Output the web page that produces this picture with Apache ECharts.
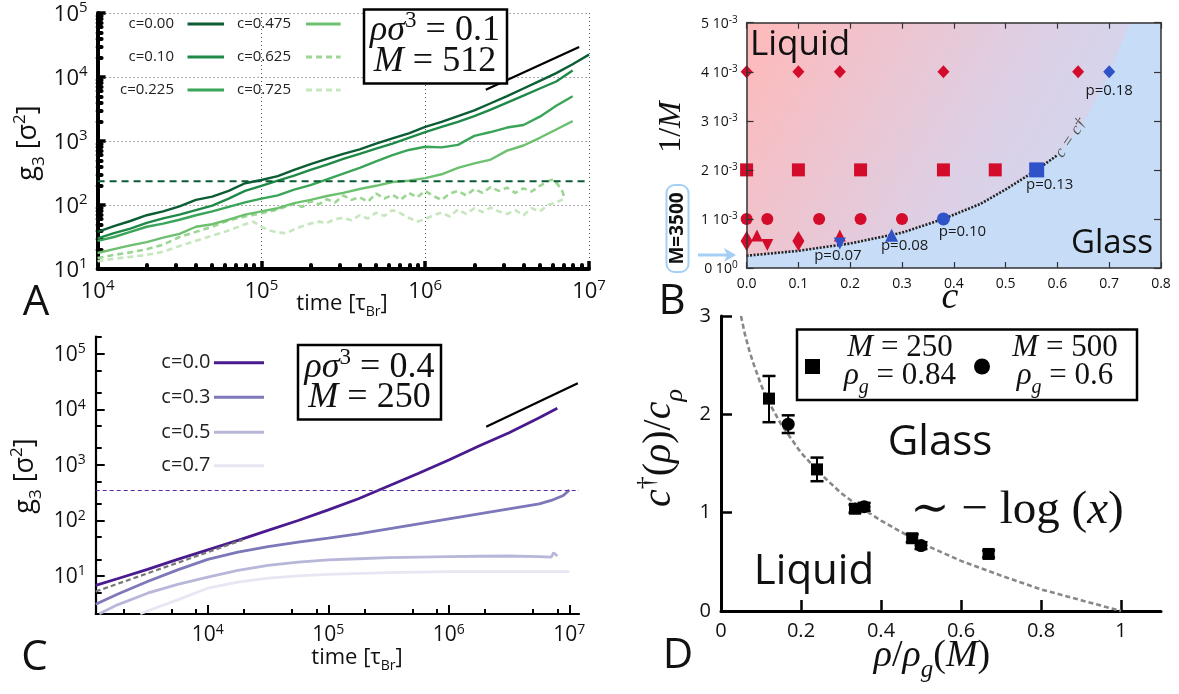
<!DOCTYPE html>
<html><head><meta charset="utf-8">
<script src="https://cdn.jsdelivr.net/npm/echarts@6/dist/echarts.min.js"></script>
<style>html,body{margin:0;padding:0;background:#fff}#c{width:1179px;height:694px}</style>
</head><body><div id="c"></div>
<script>
// ================= DATA =================
// Panel A (log10 of time and log10 of g3)
const A_logT = [4.0,4.1,4.2,4.3,4.4,4.5,4.6,4.7,4.8,4.9,5.0,5.1,5.2,5.3,5.4,5.5,5.6,5.7,5.8,5.9,6.0,6.1,6.2,6.3,6.4,6.5,6.6,6.7,6.8,6.9,7.0];
const A_logG_c000 = [1.58,1.67,1.75,1.84,1.90,1.98,2.08,2.13,2.22,2.34,2.39,2.45,2.55,2.64,2.72,2.80,2.87,2.96,3.04,3.12,3.22,3.30,3.39,3.48,3.59,3.70,3.82,3.94,4.06,4.20,4.35];
const A_logG_c010 = [1.48,1.56,1.63,1.72,1.79,1.85,1.92,1.99,2.10,2.22,2.30,2.38,2.46,2.55,2.63,2.72,2.80,2.88,2.96,3.05,3.14,3.22,3.30,3.39,3.49,3.60,3.71,3.82,3.93,4.10];
const A_logG_c0225 = [1.44,1.50,1.58,1.66,1.71,1.77,1.84,1.90,1.97,2.04,2.10,2.15,2.24,2.31,2.40,2.49,2.58,2.68,2.78,2.86,2.91,2.90,2.94,3.08,3.14,3.21,3.25,3.38,3.55,3.70];
const A_logG_c0475 = [1.25,1.31,1.37,1.42,1.49,1.55,1.66,1.70,1.77,1.85,1.90,1.95,2.03,2.08,2.14,2.19,2.25,2.30,2.36,2.38,2.42,2.48,2.58,2.65,2.71,2.85,2.93,3.05,3.18,3.31];
const A_logT_c0625 = [4.0,4.1,4.2,4.3,4.4,4.5,4.6,4.7,4.8,4.9,5.0,5.1,5.2,5.25,5.3,5.35,5.4,5.45,5.5,5.55,5.6,5.65,5.7,5.75,5.8,5.85,5.9,5.95,6.0,6.05,6.1,6.15,6.2,6.25,6.3,6.35,6.4,6.45,6.5,6.55,6.6,6.65,6.7,6.75,6.78,6.81,6.84,6.85];
const A_logG_c0625 = [1.17,1.22,1.26,1.31,1.38,1.50,1.58,1.66,1.76,1.82,1.87,1.93,2.02,1.97,2.06,2.01,2.09,2.04,2.15,2.08,2.12,2.05,2.18,2.10,2.16,2.08,2.19,2.12,2.22,2.14,2.08,2.18,2.22,2.15,2.25,2.19,2.28,2.22,2.27,2.19,2.26,2.21,2.30,2.37,2.40,2.32,2.20,2.10];
const A_logT_c0725 = [4.0,4.1,4.2,4.3,4.4,4.5,4.6,4.7,4.8,4.9,4.95,5.0,5.05,5.1,5.15,5.2,5.25,5.3,5.35,5.4,5.45,5.5,5.55,5.6,5.65,5.7,5.75,5.8,5.85,5.9,5.95,6.0,6.05,6.1,6.15,6.2,6.25,6.3,6.35,6.4,6.45,6.5,6.55,6.6,6.65,6.7,6.75,6.8,6.85];
const A_logG_c0725 = [1.12,1.16,1.19,1.22,1.27,1.36,1.44,1.52,1.60,1.70,1.74,1.66,1.60,1.57,1.56,1.62,1.67,1.71,1.74,1.72,1.78,1.80,1.76,1.84,1.79,1.88,1.83,1.92,1.87,1.80,1.74,1.78,1.84,1.88,1.82,1.93,1.86,1.95,1.89,1.96,1.90,1.86,1.92,1.84,1.95,1.90,2.00,2.04,2.10];
const A_labels = ['c=0.00','c=0.10','c=0.225','c=0.475','c=0.625','c=0.725'];
const A_threshold_logG = 2.37;
const A_slope_logT = [6.37, 6.94];
const A_slope_logG = [3.80, 4.47];
const A_tickExp_T = [4,5,6,7];
const A_tickExp_G = [1,2,3,4,5];

// Panel B (c, 1/M in units of 1e-3)
const B_cTicks = [0,0.1,0.2,0.3,0.4,0.5,0.6,0.7,0.8];
const B_invMTicks = [0,1,2,3,4,5];
const B_boundary_c    = [0,0.1,0.2,0.3,0.38,0.45,0.5,0.56,0.6,0.65,0.7,0.74];
const B_boundary_invM = [0.25,0.35,0.5,0.72,1.0,1.3,1.6,2.0,2.3,2.95,3.95,5.0];
const B_liq_diamond = [[0,4],[0.1,4],[0.18,4],[0.38,4],[0.64,4]];
const B_liq_square  = [[0,2],[0.1,2],[0.22,2],[0.38,2],[0.48,2]];
const B_liq_circle  = [[0,1],[0.04,1],[0.14,1],[0.22,1],[0.30,1]];
const B_liq_tallDiamond = [[0,0.55],[0.1,0.55]];
const B_liq_triUp   = [[0.02,0.66],[0.18,0.66]];
const B_liq_triDown = [[0.04,0.47]];
const B_gl_diamond = [[0.70,4]];
const B_gl_square  = [[0.56,2]];
const B_gl_circle  = [[0.38,1]];
const B_gl_triUp   = [[0.28,0.67]];
const B_gl_triDown = [[0.18,0.5]];
const B_pLabels = {diamond:'p=0.18', square:'p=0.13', circle:'p=0.10', triUp:'p=0.08', triDown:'p=0.07'};

// Panel C (log10 time, log10 g3)
const C_logT_c00 = [3.07,3.25,3.5,3.75,4.0,4.25,4.5,4.75,5.0,5.25,5.5,5.75,6.0,6.25,6.5,6.75,6.9];
const C_logG_c00 = [0.83,0.95,1.12,1.30,1.47,1.64,1.82,2.00,2.19,2.39,2.62,2.85,3.09,3.34,3.58,3.85,4.02];
const C_logT_c03 = [3.07,3.25,3.5,3.75,4.0,4.25,4.5,4.75,5.0,5.25,5.5,5.75,6.0,6.25,6.5,6.75,6.85,6.95,7.0];
const C_logG_c03 = [0.49,0.67,0.90,1.11,1.30,1.43,1.53,1.61,1.68,1.76,1.85,1.94,2.03,2.12,2.21,2.30,2.36,2.45,2.55];
const C_logT_c05 = [3.1,3.25,3.5,3.75,4.0,4.25,4.5,4.75,5.0,5.25,5.5,5.75,6.0,6.25,6.5,6.75,6.85,6.87,6.9];
const C_logG_c05 = [0.32,0.48,0.69,0.85,0.98,1.10,1.19,1.25,1.29,1.31,1.33,1.34,1.35,1.355,1.36,1.35,1.34,1.42,1.36];
const C_logT_c07 = [3.44,3.6,3.75,4.0,4.25,4.5,4.75,5.0,5.5,6.0,6.5,7.0];
const C_logG_c07 = [0.32,0.45,0.57,0.78,0.89,0.96,1.00,1.03,1.06,1.08,1.08,1.08];
const C_labels = ['c=0.0','c=0.3','c=0.5','c=0.7'];
const C_threshold_logG = 2.54;
const C_fit_logT = [3.07, 4.29];
const C_fit_logG = [0.72, 1.65];
const C_slope_logT = [6.31, 7.07];
const C_slope_logG = [3.69, 4.47];
const C_tickExp_T = [4,5,6,7];
const C_tickExp_G = [1,2,3,4,5];

// Panel D
const D_sq_x  = [0.12,0.24,0.335,0.478,0.669];
const D_sq_y  = [2.16,1.44,1.04,0.74,0.58];
const D_sq_lo = [1.92,1.32,1.00,0.70,0.545];
const D_sq_hi = [2.39,1.56,1.08,0.78,0.615];
const D_ci_x  = [0.168,0.358,0.50];
const D_ci_y  = [1.90,1.06,0.665];
const D_ci_lo = [1.81,1.02,0.63];
const D_ci_hi = [1.99,1.10,0.70];
const D_fit_x = [0.05,0.06,0.07,0.08,0.1,0.12,0.15,0.2,0.25,0.3,0.35,0.4,0.5,0.6,0.7,0.8,0.9,1.0];
const D_fit_y = [3.0,2.81,2.66,2.53,2.30,2.12,1.90,1.61,1.39,1.20,1.05,0.92,0.69,0.51,0.36,0.22,0.11,0.0];
const D_xTicks = [0,0.2,0.4,0.6,0.8,1];

// ================= BUILD =================
const sans = '"Open Sans","Noto Sans",sans-serif';
const serif = '"Liberation Serif","DejaVu Serif",serif';
const zip = (xs, ys) => ys.map((y, i) => [xs[i], y]);
const minorTicks = (from, to, ks) => { const r = []; for (let n = from; n < to; n++) ks.forEach(k => r.push(n + Math.log10(k))); return r; };

const colA = ['#0b5d33','#1f8a47','#3aa558','#6cc070','#9bd693','#c6e7be'];
const colC = ['#4a1a8f','#7c78b9','#b8b7da','#e8e6f2'];
const red = '#d40c2c', blue = '#2f52c8';

function powRich(size, sup, color) {
  return {
    b: {fontSize: size, fontFamily: sans, color: color || '#111', verticalAlign: 'bottom'},
    s: {fontSize: sup, fontFamily: sans, color: color || '#111', verticalAlign: 'bottom', padding: [0, 0, Math.round(size * 0.45), 0]}
  };
}
const powFmt = v => '{b|10}{s|' + Math.round(v) + '}';

const mathRich = (size) => ({
  i: {fontFamily: serif, fontStyle: 'italic', fontSize: size, verticalAlign: 'bottom', padding: [0, 0, Math.round(size * 0.22), 0]},
  n: {fontFamily: serif, fontSize: size, verticalAlign: 'bottom', padding: [0, 0, Math.round(size * 0.22), 0]},
  a: {fontFamily: sans, fontSize: size, verticalAlign: 'bottom', padding: [0, 0, Math.round(size * 0.22), 0]},
  sup: {fontFamily: serif, fontSize: Math.round(size * 0.65), verticalAlign: 'bottom', padding: [0, 0, Math.round(size * 0.7), 0]},
  ssup: {fontFamily: sans, fontSize: Math.round(size * 0.62), verticalAlign: 'bottom', padding: [0, 0, Math.round(size * 0.7), 0]},
  sub: {fontFamily: serif, fontStyle: 'italic', fontSize: Math.round(size * 0.65), verticalAlign: 'bottom', padding: [0, 0, 0, 0]},
  ssub: {fontFamily: sans, fontSize: Math.round(size * 0.62), verticalAlign: 'bottom', padding: [0, 0, 0, 0]}
});

const G = [];
function T(x, y, text, o) {
  o = o || {};
  G.push({type: 'text', x: x, y: y, rotation: o.rot || 0, z: 100, silent: true,
    style: {text: text, x: 0, y: 0, fill: o.color || '#111', fontSize: o.size || 16, fontFamily: o.family || sans,
      fontStyle: o.style || 'normal', fontWeight: o.weight || 'normal',
      align: o.align || 'center', verticalAlign: o.valign || 'middle',
      textAlign: o.align || 'center', textVerticalAlign: o.valign || 'middle', rich: o.rich}});
}
function Ln(x1, y1, x2, y2, color, w, dash) {
  G.push({type: 'line', z: 100, silent: true, shape: {x1, y1, x2, y2}, style: {stroke: color, lineWidth: w, lineDash: dash || null}});
}
function Rc(x, y, w, h, stroke, lw, r, fill) {
  G.push({type: 'rect', z: 99, silent: true, shape: {x, y, width: w, height: h, r: r || 0}, style: {fill: fill || 'rgba(0,0,0,0)', stroke: stroke, lineWidth: lw}});
}

// ---- Panel A annotations ----
const aRows = [24, 57, 90];
[0,1,2].forEach(i => {
  T(174, aRows[i], A_labels[i], {size: 15, align: 'right', color: '#222'});
  Ln(187.5, aRows[i], 224, aRows[i], colA[i], 3);
  T(291, aRows[i], A_labels[i + 3], {size: 15, align: 'right', color: '#222'});
  Ln(306, aRows[i], 340.6, aRows[i], colA[i + 3], 3, i === 0 ? null : [6, 4]);
});
Rc(364, 9.5, 143, 74, '#000', 2.5, 0, '#fff');
T(435, 33, '{i|ρσ}{sup|3}{n| = 0.1}', {rich: mathRich(36)});
T(435, 66, '{i|M}{n| = 512}', {rich: mathRich(36)});
T(342, 306, '{a|time [τ}{ssub|Br}{a|]}', {rich: mathRich(22)});
T(30, 143, '{a|g}{ssub|3}{a| [σ}{ssup|2}{a|]}', {rich: mathRich(27), rot: Math.PI / 2});
T(36, 303, 'A', {size: 42});

// ---- Panel B annotations ----
T(750, 45, 'Liquid', {size: 35, align: 'left'});
T(1153, 244, 'Glass', {size: 33, align: 'right'});
T(1071, 138, 'c = c†', {size: 17, family: serif, style: 'italic', color: '#555', rot: 0.98});
T(675, 127, '{n|1/}{i|M}', {rich: mathRich(32), rot: Math.PI / 2});
T(950, 302, '{i|c}', {rich: mathRich(38)});
Rc(666.5, 185, 22, 87, '#a6cff5', 2, 8, '#fff');
T(678, 228.5, 'M=3500', {size: 19, weight: 'bold', rot: Math.PI / 2});
Ln(698, 255, 728, 255, '#a6cff5', 3);
G.push({type: 'polygon', z: 100, silent: true, shape: {points: [[736, 255], [724, 248], [727, 255], [724, 262]]}, style: {fill: '#a6cff5'}});
T(672, 302, 'B', {size: 42});

// ---- Panel C annotations ----
const cRows = [362.7, 397.3, 432.3, 465.7];
cRows.forEach((y, i) => {
  T(210.5, y, C_labels[i], {size: 20, align: 'right', color: '#222'});
  Ln(214, y, 264, y, colC[i], 3);
});
Rc(298, 345, 143, 74.5, '#000', 2.5, 0, '#fff');
T(369.5, 370, '{i|ρσ}{sup|3}{n| = 0.4}', {rich: mathRich(36)});
T(369.5, 402, '{i|M}{n| = 250}', {rich: mathRich(36)});
T(357, 660, '{a|time [τ}{ssub|Br}{a|]}', {rich: mathRich(22)});
T(27, 476, '{a|g}{ssub|3}{a| [σ}{ssup|2}{a|]}', {rich: mathRich(27), rot: Math.PI / 2});
T(34.5, 658, 'C', {size: 42});

// ---- Panel D annotations ----
Rc(797, 329.5, 340, 70.5, '#000', 2.5, 0, '#fff');
G.push({type: 'rect', z: 101, silent: true, shape: {x: 805, y: 359, width: 15, height: 15}, style: {fill: '#000'}});
G.push({type: 'circle', z: 101, silent: true, shape: {cx: 982, cy: 366.5, r: 8}, style: {fill: '#000'}});
T(900, 351, '{i|M}{n| = 250}', {rich: mathRich(31)});
T(900, 379, '{i|ρ}{sub|g}{n| = 0.84}', {rich: mathRich(31)});
T(1065, 351, '{i|M}{n| = 500}', {rich: mathRich(31)});
T(1065, 379, '{i|ρ}{sub|g}{n| = 0.6}', {rich: mathRich(31)});
T(940, 443, 'Glass', {size: 42});
T(814, 572, 'Liquid', {size: 42});
T(1017, 516, '{n|∼ − log (}{i|x}{n|)}', {rich: mathRich(47)});
T(661, 448, '{i|c}{sup|†}{n|(}{i|ρ}{n|)/}{i|c}{sub|ρ}', {rich: mathRich(40), rot: Math.PI / 2});
T(932, 660, '{i|ρ}{n|/}{i|ρ}{sub|g}{n|(}{i|M}{n|)}', {rich: mathRich(38)});
T(678, 656, 'D', {size: 42});

// ---- axes ----
const grids = [
  {left: 97.6, top: 13, width: 491.4, height: 256, show: false, outerBoundsMode: 'none'},
  {left: 746.6, top: 22.7, width: 414.4, height: 245.3, show: true, borderWidth: 0,
    backgroundColor: new echarts.graphic.LinearGradient(0, 0, 1, 1, [{offset: 0, color: '#ffb9b9'}, {offset: 0.55, color: '#dcd0e6'}, {offset: 1, color: '#c8dcf6'}]),
    outerBoundsMode: 'none'},
  {left: 95.7, top: 336.7, width: 483.3, height: 277.3, show: false, outerBoundsMode: 'none'},
  {left: 721, top: 316, width: 440, height: 295, show: false, outerBoundsMode: 'none'}
];

const gridDot = {show: true, lineStyle: {type: [1, 3], color: '#555', width: 1}};
const xAxes = [
  {gridIndex: 0, type: 'value', min: 4, max: 7, interval: 1, axisLine: {onZero: false, lineStyle: {color: '#000', width: 4}},
    axisTick: {inside: true, length: 8, lineStyle: {color: '#000', width: 3.5}},
    axisLabel: {formatter: powFmt, rich: powRich(22, 15), margin: 9, showMinLabel: true, showMaxLabel: true},
    splitLine: gridDot},
  {gridIndex: 0, type: 'value', min: 4, max: 7, position: 'bottom', axisLine: {show: false, onZero: false},
    axisTick: {inside: true, length: 4, customValues: minorTicks(4, 7, [2,3,4,5,6,7,8,9]), lineStyle: {color: '#000', width: 4, cap: 'round'}},
    axisLabel: {show: false}, splitLine: {show: false}},
  {gridIndex: 1, type: 'value', min: 0, max: 0.8, interval: 0.1, z: 10, axisLine: {onZero: false, lineStyle: {color: '#333', width: 1.5}},
    axisTick: {inside: true, length: 6, lineStyle: {color: '#333', width: 1.2}},
    axisLabel: {formatter: v => v.toFixed(1), fontSize: 14, fontFamily: sans, color: '#111', margin: 9, showMinLabel: true, showMaxLabel: true},
    splitLine: {show: false}},
  {gridIndex: 1, type: 'value', min: 0, max: 0.8, interval: 0.1, position: 'top', z: 10, axisLine: {onZero: false, lineStyle: {color: '#333', width: 1.5}},
    axisTick: {inside: true, length: 6, lineStyle: {color: '#333', width: 1.2}}, axisLabel: {show: false}, splitLine: {show: false}},
  {gridIndex: 2, type: 'value', min: 3.07, max: 7.08, axisLine: {onZero: false, lineStyle: {color: '#000', width: 2.2}},
    axisTick: {inside: true, length: 9, customValues: C_tickExp_T, lineStyle: {color: '#000', width: 2}},
    axisLabel: {customValues: C_tickExp_T, formatter: powFmt, rich: powRich(21, 14), margin: 9},
    splitLine: {show: false}},
  {gridIndex: 2, type: 'value', min: 3.07, max: 7.08, position: 'bottom', axisLine: {show: false, onZero: false},
    axisTick: {inside: true, length: 5, customValues: minorTicks(3, 7, [2,5,8]).filter(v => v > 3.07), lineStyle: {color: '#000', width: 2}},
    axisLabel: {show: false}, splitLine: {show: false}},
  {gridIndex: 3, type: 'value', min: 0, max: 1.1, axisLine: {onZero: false, lineStyle: {color: '#000', width: 3}},
    axisTick: {inside: true, length: 11, customValues: D_xTicks, lineStyle: {color: '#000', width: 2.5}},
    axisLabel: {customValues: D_xTicks, formatter: v => String(v), fontSize: 20, fontFamily: sans, color: '#111', margin: 10},
    splitLine: {show: false}}
];
const yAxes = [
  {gridIndex: 0, type: 'value', min: 1, max: 5, interval: 1, axisLine: {onZero: false, lineStyle: {color: '#000', width: 4}},
    axisTick: {inside: true, length: 8, lineStyle: {color: '#000', width: 3.5}},
    axisLabel: {formatter: powFmt, rich: powRich(22, 15), margin: 10, showMinLabel: true, showMaxLabel: true},
    splitLine: gridDot},
  {gridIndex: 0, type: 'value', min: 1, max: 5, position: 'left', axisLine: {show: false, onZero: false},
    axisTick: {inside: true, length: 4, customValues: minorTicks(1, 5, [2,3,4,5,6,7,8,9]), lineStyle: {color: '#000', width: 4, cap: 'round'}},
    axisLabel: {show: false}, splitLine: {show: false}},
  {gridIndex: 1, type: 'value', min: 0, max: 5, interval: 1, z: 10, axisLine: {onZero: false, lineStyle: {color: '#333', width: 1.5}},
    axisTick: {inside: true, length: 7, lineStyle: {color: '#333', width: 1.2}},
    axisLabel: {formatter: v => v === 0 ? '{n|0 10}{s|0}' : '{n|' + v + ' 10}{s|-3}', margin: 9, showMinLabel: true, showMaxLabel: true,
      rich: {n: {fontSize: 14, fontFamily: sans, color: '#111', verticalAlign: 'bottom'}, s: {fontSize: 10, fontFamily: sans, color: '#111', verticalAlign: 'bottom', padding: [0, 0, 6, 0]}}},
    splitLine: {show: false}},
  {gridIndex: 1, type: 'value', min: 0, max: 5, interval: 1, position: 'right', z: 10, axisLine: {onZero: false, lineStyle: {color: '#333', width: 1.5}},
    axisTick: {inside: true, length: 7, lineStyle: {color: '#333', width: 1.2}}, axisLabel: {show: false}, splitLine: {show: false}},
  {gridIndex: 2, type: 'value', min: 0.315, max: 5.31, axisLine: {onZero: false, lineStyle: {color: '#000', width: 2.2}},
    axisTick: {inside: true, length: 9, customValues: C_tickExp_G, lineStyle: {color: '#000', width: 2}},
    axisLabel: {customValues: C_tickExp_G, formatter: powFmt, rich: powRich(21, 14), margin: 10},
    splitLine: {show: false}},
  {gridIndex: 2, type: 'value', min: 0.315, max: 5.31, position: 'left', axisLine: {show: false, onZero: false},
    axisTick: {inside: true, length: 6, customValues: minorTicks(0, 6, [2,5]).filter(v => v > 0.32 && v < 5.31), lineStyle: {color: '#000', width: 2}},
    axisLabel: {show: false}, splitLine: {show: false}},
  {gridIndex: 3, type: 'value', min: 0, max: 3, interval: 1, axisLine: {onZero: false, lineStyle: {color: '#000', width: 3}},
    axisTick: {inside: true, length: 11, lineStyle: {color: '#000', width: 2.5}},
    axisLabel: {fontSize: 20, fontFamily: sans, color: '#111', margin: 10, showMinLabel: true, showMaxLabel: true},
    splitLine: {show: false}}
];

// ---- series ----
const S = [];
function lineS(xi, yi, data, color, w, dash, z) {
  S.push({type: 'line', xAxisIndex: xi, yAxisIndex: yi, data: data, symbol: 'none', showSymbol: false, silent: true,
    itemStyle: {color: color}, lineStyle: {color: color, width: w, type: dash || 'solid', opacity: 1}, z: z || 3});
}
// Panel A
lineS(0, 0, zip(A_logT_c0725, A_logG_c0725), colA[5], 2.6, [6, 4]);
lineS(0, 0, zip(A_logT_c0625, A_logG_c0625), colA[4], 2.6, [6, 4]);
lineS(0, 0, zip(A_logT, A_logG_c0475), colA[3], 2.4);
lineS(0, 0, zip(A_logT, A_logG_c0225), colA[2], 2.4);
lineS(0, 0, zip(A_logT, A_logG_c010), colA[1], 2.4);
lineS(0, 0, zip(A_logT, A_logG_c000), colA[0], 2.4);
lineS(0, 0, [[4, A_threshold_logG], [7, A_threshold_logG]], '#0d5a36', 2, [7, 5]);
lineS(0, 0, zip(A_slope_logT, A_slope_logG), '#000', 2.2);

// Panel B
S.push({type: 'custom', xAxisIndex: 2, yAxisIndex: 2, z: 1, silent: true, data: [[0, 0]],
  renderItem: function (p, api) {
    const pts = B_boundary_c.map((c, i) => api.coord([c, B_boundary_invM[i]]));
    pts.push(api.coord([0.8, 5]), api.coord([0.8, 0]), api.coord([0, 0]));
    return {type: 'polygon', shape: {points: pts}, style: {fill: '#c7dcf7'}};
  }});
S.push({type: 'line', xAxisIndex: 2, yAxisIndex: 2, z: 3, silent: true, symbol: 'none',
  data: zip(B_boundary_c, B_boundary_invM).slice(0, 9), lineStyle: {color: '#222', width: 2.6, type: [2, 1.5]}});
function scat(data, symbol, size, color, rot, label, off) {
  const s = {type: 'scatter', xAxisIndex: 2, yAxisIndex: 2, z: 5, silent: true, data: data, symbol: symbol, symbolSize: size,
    symbolRotate: rot || 0, itemStyle: {color: color, opacity: 1}};
  if (label) s.label = {show: true, position: 'inside', offset: off, formatter: label, color: '#1a1a1a', fontSize: 15, fontFamily: sans};
  S.push(s);
}
scat(B_liq_diamond, 'diamond', [12, 13], red);
scat(B_liq_square, 'rect', 13, red);
scat(B_liq_circle, 'circle', 12, red);
scat(B_liq_tallDiamond, 'diamond', [12, 20], red);
scat(B_liq_triUp, 'triangle', 12, red);
scat(B_liq_triDown, 'triangle', 12, red, 180);
scat(B_gl_diamond, 'diamond', [12, 13], blue, 0, B_pLabels.diamond, [0, 19]);
scat(B_gl_square, 'rect', 15, blue, 0, B_pLabels.square, [13, 15]);
scat(B_gl_circle, 'circle', 13, blue, 0, B_pLabels.circle, [19, 13]);
scat(B_gl_triUp, 'triangle', 13, blue, 0, B_pLabels.triUp, [13, 11]);
scat(B_gl_triDown, 'triangle', 12, blue, 180, B_pLabels.triDown, [-2, 12]);

// Panel C
lineS(4, 4, zip(C_logT_c07, C_logG_c07), colC[3], 2.8);
lineS(4, 4, zip(C_logT_c05, C_logG_c05), colC[2], 2.8);
lineS(4, 4, zip(C_logT_c03, C_logG_c03), colC[1], 2.8);
lineS(4, 4, zip(C_logT_c00, C_logG_c00), colC[0], 2.8);
lineS(4, 4, [[3.07, C_threshold_logG], [7.08, C_threshold_logG]], '#5b2aa0', 1.2, [4, 3]);
lineS(4, 4, zip(C_fit_logT, C_fit_logG), '#777', 2.2, [5, 3], 4);
lineS(4, 4, zip(C_slope_logT, C_slope_logG), '#000', 2.2);

// Panel D
lineS(6, 6, zip(D_fit_x, D_fit_y), '#888', 2.6, [5, 3], 2);
function errBars(xs, los, his) {
  S.push({type: 'custom', xAxisIndex: 6, yAxisIndex: 6, z: 4, silent: true, data: xs.map((x, i) => [x, los[i], his[i]]),
    renderItem: function (p, api) {
      const x = api.value(0);
      const lo = api.coord([x, api.value(1)]), hi = api.coord([x, api.value(2)]);
      const w = 6.5;
      return {type: 'group', children: [
        {type: 'line', shape: {x1: lo[0], y1: lo[1], x2: hi[0], y2: hi[1]}, style: {stroke: '#000', lineWidth: 2}},
        {type: 'line', shape: {x1: lo[0] - w, y1: lo[1], x2: lo[0] + w, y2: lo[1]}, style: {stroke: '#000', lineWidth: 2.5}},
        {type: 'line', shape: {x1: hi[0] - w, y1: hi[1], x2: hi[0] + w, y2: hi[1]}, style: {stroke: '#000', lineWidth: 2.5}}
      ]};
    }});
}
errBars(D_sq_x, D_sq_lo, D_sq_hi);
errBars(D_ci_x, D_ci_lo, D_ci_hi);
S.push({type: 'scatter', xAxisIndex: 6, yAxisIndex: 6, z: 5, silent: true, data: zip(D_sq_x, D_sq_y), symbol: 'rect', symbolSize: 12, itemStyle: {color: '#000', opacity: 1}});
S.push({type: 'scatter', xAxisIndex: 6, yAxisIndex: 6, z: 5, silent: true, data: zip(D_ci_x, D_ci_y), symbol: 'circle', symbolSize: 13, itemStyle: {color: '#000', opacity: 1}});

const chart = echarts.init(document.getElementById('c'), null, {renderer: 'canvas'});
chart.setOption({
  animation: false,
  backgroundColor: '#fff',
  textStyle: {fontFamily: sans},
  grid: grids,
  xAxis: xAxes,
  yAxis: yAxes,
  series: S,
  graphic: {elements: G}
});
</script></body></html>
